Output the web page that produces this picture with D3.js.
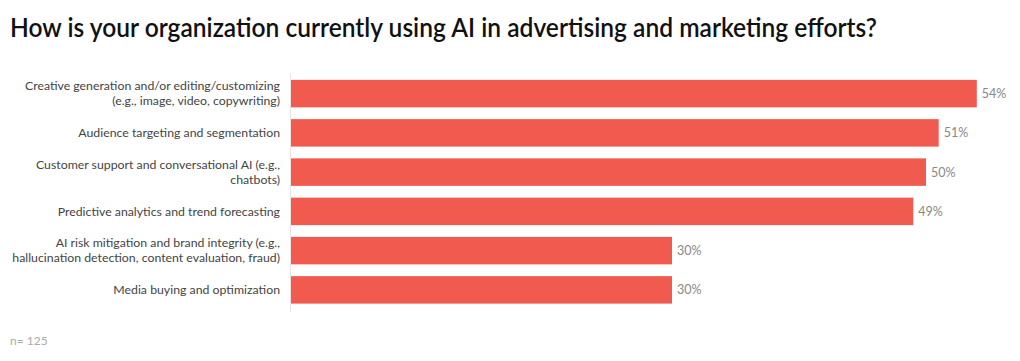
<!DOCTYPE html>
<html><head><meta charset="utf-8">
<script src="https://cdn.jsdelivr.net/npm/d3@7"></script>
<style>body{margin:0;background:#fff;} svg{display:block;}</style>
</head><body>
<script>
const categories = [
  ["Creative generation and/or editing/customizing", "(e.g., image, video, copywriting)"],
  ["Audience targeting and segmentation"],
  ["Customer support and conversational AI (e.g.,", "chatbots)"],
  ["Predictive analytics and trend forecasting"],
  ["AI risk mitigation and brand integrity (e.g.,", "hallucination detection, content evaluation, fraud)"],
  ["Media buying and optimization"]
];
const values = [54, 51, 50, 49, 30, 30];
const valueLabels = ["54%", "51%", "50%", "49%", "30%", "30%"];
const title = "How is your organization currently using AI in advertising and marketing efforts?";
const note = "n= 125";

const W = 1020, H = 361;
const font = "Lato, 'Noto Sans', sans-serif";
const svg = d3.select("body").append("svg").attr("width", W).attr("height", H);
svg.append("rect").attr("width", W).attr("height", H).attr("fill", "#fff");

svg.append("text").attr("x", 10).attr("y", 37).attr("font-family", font)
  .attr("font-size", 26).attr("fill", "#111").attr("font-weight", 600)
  .attr("textLength", 867).attr("lengthAdjust", "spacingAndGlyphs").text(title);

const x = d3.scaleLinear().domain([0, 100]).range([291, 291 + 1270]);
const y = d3.scaleBand().domain(d3.range(values.length)).range([74, 309.5]).paddingInner(0.3).paddingOuter(0.15);

svg.append("line").attr("x1", 290.5).attr("x2", 290.5).attr("y1", 73).attr("y2", 312)
  .attr("stroke", "#e6e6e6").attr("stroke-width", 1);

svg.selectAll("rect.bar").data(values).join("rect").attr("class", "bar")
  .attr("x", x(0)).attr("y", (d, i) => y(i)).attr("width", d => x(d) - x(0))
  .attr("height", y.bandwidth()).attr("fill", "#f15a4e");

svg.selectAll("text.val").data(values).join("text").attr("class", "val")
  .attr("x", d => x(d) + 5).attr("y", (d, i) => y(i) + y.bandwidth() / 2)
  .attr("dy", "0.35em").attr("font-family", font).attr("font-size", 12.5)
  .attr("fill", "#888").attr("font-weight", 400).text((d, i) => valueLabels[i]);

const lab = svg.selectAll("text.cat").data(categories).join("text").attr("class", "cat")
  .attr("text-anchor", "end").attr("font-family", font).attr("font-size", 12.3).attr("fill", "#444");
lab.each(function(lines, i) {
  const cy = y(i) + y.bandwidth() / 2;
  const lh = 15;
  const start = cy - (lines.length - 1) * lh / 2;
  d3.select(this).selectAll("tspan").data(lines).join("tspan")
    .attr("x", 280).attr("y", (d, j) => start + j * lh).attr("dy", "0.35em").text(d => d);
});

svg.append("text").attr("x", 10).attr("y", 345).attr("font-family", font)
  .attr("font-size", 12).attr("fill", "#aaa").text(note);
</script>
</body></html>
